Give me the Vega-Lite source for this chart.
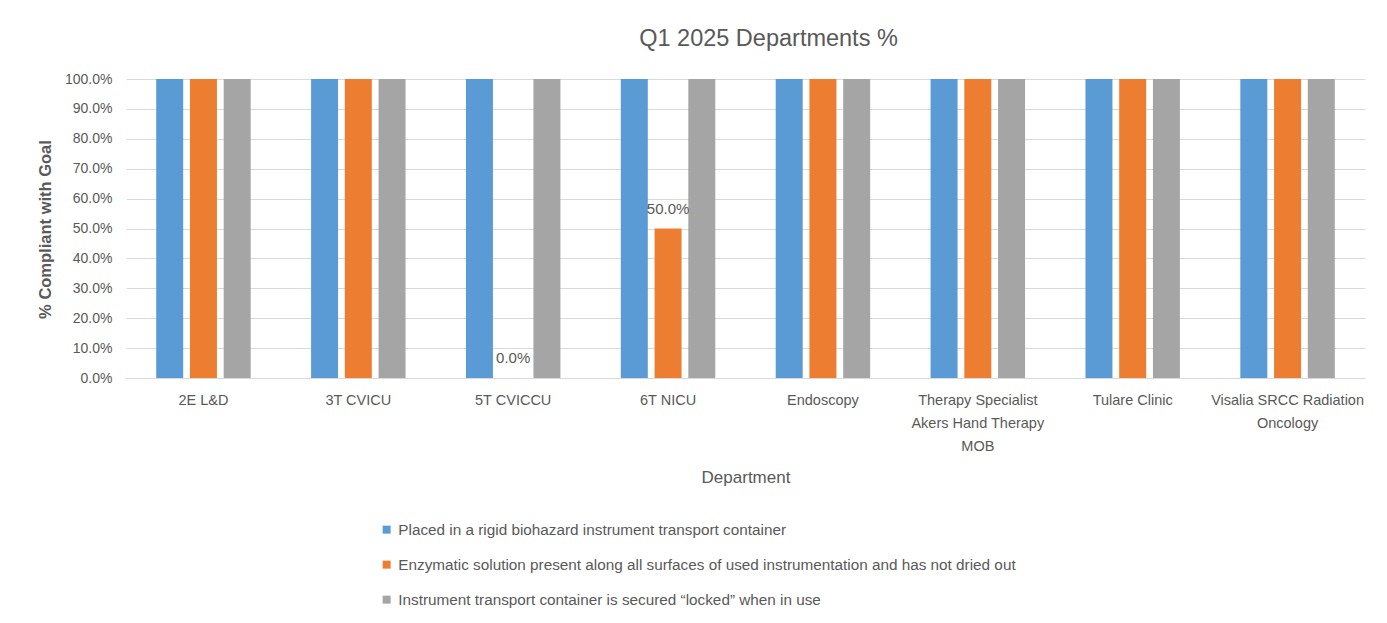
{
  "$schema": "https://vega.github.io/schema/vega-lite/v6.json",
  "width": 1239,
  "height": 299,
  "autosize": {"type": "none"},
  "padding": {"left": 126, "top": 79, "right": 22, "bottom": 245},
  "background": "white",
  "title": {
    "text": "Q1 2025 Departments %",
    "fontSize": 23.5,
    "fontWeight": "normal",
    "color": "#595959",
    "anchor": "middle",
    "dx": 23,
    "baseline": "bottom",
    "offset": -2
  },
  "data": {
    "values": [
      {"dept": "2E L&D", "series": "Placed in a rigid biohazard instrument transport container", "value": 1},
      {"dept": "2E L&D", "series": "Enzymatic solution present along all surfaces of used instrumentation and has not dried out", "value": 1},
      {"dept": "2E L&D", "series": "Instrument transport container is secured “locked” when in use", "value": 1},
      {"dept": "3T CVICU", "series": "Placed in a rigid biohazard instrument transport container", "value": 1},
      {"dept": "3T CVICU", "series": "Enzymatic solution present along all surfaces of used instrumentation and has not dried out", "value": 1},
      {"dept": "3T CVICU", "series": "Instrument transport container is secured “locked” when in use", "value": 1},
      {"dept": "5T CVICCU", "series": "Placed in a rigid biohazard instrument transport container", "value": 1},
      {"dept": "5T CVICCU", "series": "Enzymatic solution present along all surfaces of used instrumentation and has not dried out", "value": 0},
      {"dept": "5T CVICCU", "series": "Instrument transport container is secured “locked” when in use", "value": 1},
      {"dept": "6T NICU", "series": "Placed in a rigid biohazard instrument transport container", "value": 1},
      {"dept": "6T NICU", "series": "Enzymatic solution present along all surfaces of used instrumentation and has not dried out", "value": 0.5},
      {"dept": "6T NICU", "series": "Instrument transport container is secured “locked” when in use", "value": 1},
      {"dept": "Endoscopy", "series": "Placed in a rigid biohazard instrument transport container", "value": 1},
      {"dept": "Endoscopy", "series": "Enzymatic solution present along all surfaces of used instrumentation and has not dried out", "value": 1},
      {"dept": "Endoscopy", "series": "Instrument transport container is secured “locked” when in use", "value": 1},
      {"dept": "Therapy Specialist Akers Hand Therapy MOB", "series": "Placed in a rigid biohazard instrument transport container", "value": 1},
      {"dept": "Therapy Specialist Akers Hand Therapy MOB", "series": "Enzymatic solution present along all surfaces of used instrumentation and has not dried out", "value": 1},
      {"dept": "Therapy Specialist Akers Hand Therapy MOB", "series": "Instrument transport container is secured “locked” when in use", "value": 1},
      {"dept": "Tulare Clinic", "series": "Placed in a rigid biohazard instrument transport container", "value": 1},
      {"dept": "Tulare Clinic", "series": "Enzymatic solution present along all surfaces of used instrumentation and has not dried out", "value": 1},
      {"dept": "Tulare Clinic", "series": "Instrument transport container is secured “locked” when in use", "value": 1},
      {"dept": "Visalia SRCC Radiation Oncology", "series": "Placed in a rigid biohazard instrument transport container", "value": 1},
      {"dept": "Visalia SRCC Radiation Oncology", "series": "Enzymatic solution present along all surfaces of used instrumentation and has not dried out", "value": 1},
      {"dept": "Visalia SRCC Radiation Oncology", "series": "Instrument transport container is secured “locked” when in use", "value": 1}
    ]
  },
  "encoding": {
    "x": {
      "field": "dept",
      "type": "nominal",
      "sort": null,
      "scale": {"paddingInner": 0.39, "paddingOuter": 0.195},
      "axis": {
        "title": "Department",
        "labelAngle": 0,
        "labelPadding": 15,
        "labelFontSize": 14.5,
        "labelLineHeight": 23,
        "labelBaseline": "top",
        "labelColor": "#595959",
        "labelLimit": 0,
        "labelExpr": "datum.value == 'Therapy Specialist Akers Hand Therapy MOB' ? ['Therapy Specialist', 'Akers Hand Therapy', 'MOB'] : datum.value == 'Visalia SRCC Radiation Oncology' ? ['Visalia SRCC Radiation', 'Oncology'] : datum.value",
        "ticks": false,
        "domain": true,
        "domainColor": "#D9D9D9",
        "titleFontSize": 17,
        "titleFontWeight": "normal",
        "titleColor": "#595959",
        "titleY": 99,
        "titleBaseline": "middle"
      }
    },
    "xOffset": {
      "field": "series",
      "type": "nominal",
      "scale": {
        "domain": [
          "Placed in a rigid biohazard instrument transport container",
          "Enzymatic solution present along all surfaces of used instrumentation and has not dried out",
          "Instrument transport container is secured “locked” when in use"
        ],
        "paddingInner": 0.2,
        "paddingOuter": 0
      }
    },
    "y": {
      "field": "value",
      "type": "quantitative",
      "scale": {"domain": [0, 1], "nice": false},
      "axis": {
        "title": "% Compliant with Goal",
        "format": ".1%",
        "values": [0, 0.1, 0.2, 0.3, 0.4, 0.5, 0.6, 0.7, 0.8, 0.9, 1],
        "grid": true,
        "gridColor": "#D9D9D9",
        "domain": false,
        "ticks": false,
        "labelPadding": 14,
        "labelFontSize": 14,
        "labelColor": "#595959",
        "titleFontSize": 16.5,
        "titleFontWeight": "bold",
        "titleColor": "#595959",
        "titleX": -81,
        "titleY": 150,
        "titleAlign": "center",
        "titleBaseline": "middle"
      }
    }
  },
  "layer": [
    {
      "mark": {"type": "bar"},
      "encoding": {
        "color": {
          "field": "series",
          "type": "nominal",
          "scale": {
            "domain": [
              "Placed in a rigid biohazard instrument transport container",
              "Enzymatic solution present along all surfaces of used instrumentation and has not dried out",
              "Instrument transport container is secured “locked” when in use"
            ],
            "range": ["#5B9BD5", "#ED7D31", "#A5A5A5"]
          },
          "legend": {
            "orient": "none",
            "legendX": 253,
            "legendY": 443,
            "title": null,
            "symbolType": "square",
            "symbolSize": 64,
            "symbolStrokeWidth": 0,
            "labelFontSize": 15.3,
            "labelColor": "#595959",
            "labelLimit": 0,
            "rowPadding": 19,
            "labelOffset": 4
          }
        }
      }
    },
    {
      "transform": [{"filter": "datum.value < 1"}],
      "mark": {"type": "text", "baseline": "bottom", "dy": -12, "fontSize": 15, "color": "#595959"},
      "encoding": {
        "text": {"field": "value", "type": "quantitative", "format": ".1%"}
      }
    }
  ],
  "config": {
    "font": "Liberation Sans",
    "view": {"stroke": null}
  }
}
